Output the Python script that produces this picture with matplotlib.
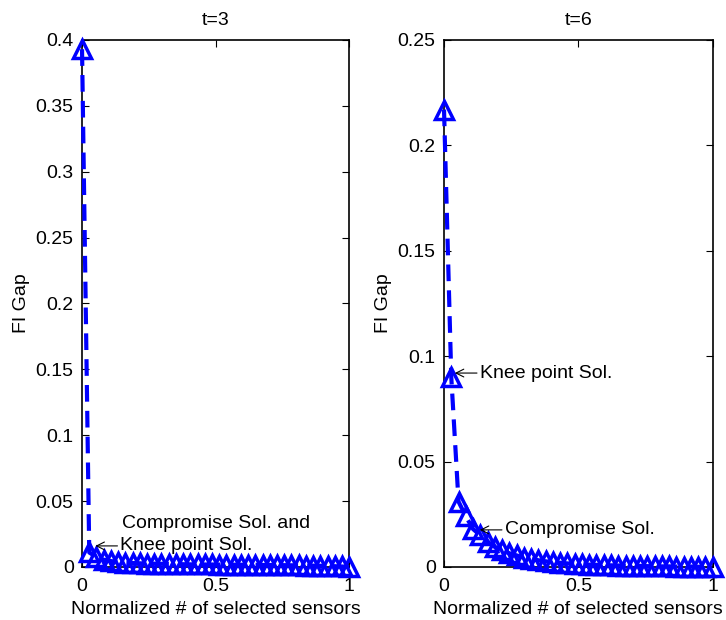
import numpy as np
import matplotlib
matplotlib.use('Agg')
import matplotlib.pyplot as plt

plt.rcParams['font.family'] = ['Liberation Sans', 'DejaVu Sans']

# normalized number of selected sensors (38 solutions on the front)
x = np.linspace(0, 1, 38)

gap_t3 = [0.393, 0.011, 0.0075, 0.0055, 0.0045, 0.0038, 0.0033, 0.003, 0.0028, 0.0026,
          0.0025, 0.0024, 0.0023, 0.0022, 0.0021, 0.002, 0.002, 0.0019, 0.0019, 0.0018,
          0.0018, 0.0017, 0.0017, 0.0016, 0.0016, 0.0015, 0.0015, 0.0014, 0.0014, 0.0013,
          0.0012, 0.0011, 0.001, 0.0009, 0.0008, 0.0006, 0.0004, 0.0]

gap_t6 = [0.217, 0.090, 0.031, 0.024, 0.018, 0.015, 0.012, 0.0095, 0.008, 0.0065,
          0.0055, 0.0045, 0.0038, 0.0032, 0.0027, 0.0023, 0.002, 0.0017, 0.0015, 0.0013,
          0.0011, 0.001, 0.0009, 0.0008, 0.0007, 0.0006, 0.0005, 0.0005, 0.0004, 0.0004,
          0.0003, 0.0003, 0.0002, 0.0002, 0.0002, 0.0001, 0.0001, 0.0]

blue = '#0000ff'
fs = 14

fig = plt.figure(figsize=(7.26, 6.2), dpi=100)
ax1 = fig.add_axes([0.113, 0.0855, 0.368, 0.85])
ax2 = fig.add_axes([0.6116, 0.0855, 0.370, 0.85])


def style(ax, ydata, ymax, step, title):
    ax.plot(x, ydata, color=blue, lw=3, ls=(0, (4, 2.2)), marker='^', ms=13,
            mfc='none', mec=blue, mew=2.5, clip_on=False, zorder=3)
    ax.set_xlim(0, 1)
    ax.set_ylim(0, ymax)
    ax.set_xticks([0, 0.5, 1])
    ax.set_xticklabels(['0', '0.5', '1'])
    yt = np.arange(0, ymax + 1e-9, step)
    ax.set_yticks(yt)
    ax.set_yticklabels(['0'] + ['%g' % v for v in yt[1:]])
    ax.tick_params(direction='in', top=True, right=True, labelsize=fs, length=5)
    ax.tick_params(axis='x', pad=8)
    ax.tick_params(axis='y', pad=6)
    ax.set_xlabel('Normalized # of selected sensors', fontsize=fs, labelpad=4)
    ax.set_ylabel('FI Gap', fontsize=fs, labelpad=4)
    ax.set_title(title, fontsize=fs, pad=11)
    for s in ax.spines.values():
        s.set_linewidth(1.2)


style(ax1, gap_t3, 0.4, 0.05, 't=3')
style(ax2, gap_t6, 0.25, 0.05, 't=6')

arrow = dict(arrowstyle='->', lw=0.8, color='black', shrinkA=0, shrinkB=0)

ax1.text(0.15, 0.033, 'Compromise Sol. and', fontsize=fs, va='center', ha='left')
ax1.annotate('Knee point Sol.', xy=(0.05, 0.016), xytext=(0.143, 0.016),
             fontsize=fs, va='center', ha='left', arrowprops=arrow)

ax2.annotate('Knee point Sol.', xy=(0.04, 0.092), xytext=(0.133, 0.092),
             fontsize=fs, va='center', ha='left', arrowprops=arrow)
ax2.annotate('Compromise Sol.', xy=(0.133, 0.0176), xytext=(0.226, 0.0176),
             fontsize=fs, va='center', ha='left', arrowprops=arrow)

fig.savefig('out.png', dpi=100)
